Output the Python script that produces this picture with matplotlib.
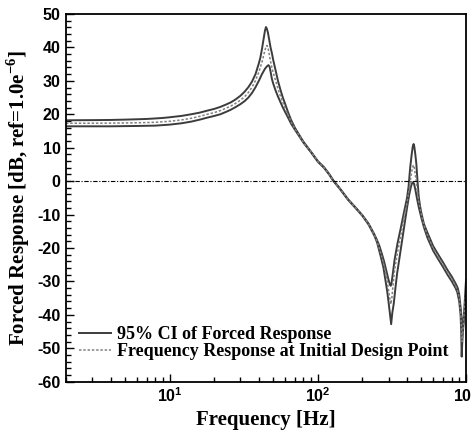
import math
import matplotlib
matplotlib.use("Agg")
import matplotlib.pyplot as plt
from matplotlib.ticker import FixedLocator, FuncFormatter, MultipleLocator, LogLocator, NullFormatter

plt.rcParams["font.family"] = ["Liberation Serif", "DejaVu Serif"]
plt.rcParams["mathtext.fontset"] = "custom"
plt.rcParams["mathtext.rm"] = "Liberation Serif:bold"
plt.rcParams["mathtext.bf"] = "Liberation Serif:bold"
plt.rcParams["mathtext.sf"] = "Liberation Sans:bold"

# Upper bound of the 95% confidence interval (Hz, dB)
ci_upper_freq = [2, 3, 4, 5, 6, 7, 8, 9, 10, 12, 14, 16, 18, 20, 22, 24, 26, 28, 30, 32, 34, 36,
                 38, 40, 41, 42, 43, 44, 44.7, 45.3, 46, 47, 48, 49, 50, 52, 54, 56, 58, 60, 63,
                 66, 70, 75, 80, 90, 100, 110, 120, 127, 140, 160, 180, 200, 220, 240, 250, 260,
                 270, 280, 290, 300, 306, 310, 314, 320, 330, 345, 360, 380, 400, 410, 420, 430,
                 437, 443, 448, 455, 462, 470, 480, 490, 500, 520, 550, 600, 650, 700, 750, 800,
                 850, 880, 900, 920, 935, 945, 952, 960, 970, 985, 1000]
ci_upper_db = [18.2, 18.25, 18.3, 18.4, 18.5, 18.6, 18.75, 18.9, 19.1, 19.5, 20.0, 20.5, 21.1,
               21.6, 22.2, 22.9, 23.6, 24.5, 25.5, 26.7, 28.1, 29.8, 32.0, 35.2, 37.0, 39.5, 42.3,
               45.0, 46.1, 45.6, 44.6, 42.3, 40.0, 38.3, 36.3, 33.0, 29.8, 27.3, 25.1, 23.3, 20.6,
               18.3, 16.0, 13.8, 11.8, 8.8, 6.0, 4.2, 2.0, 0.3, -2.0, -5.4, -7.9, -10.2, -12.7,
               -15.8, -17.5, -19.3, -21.6, -24.0, -26.8, -29.5, -30.8, -31.3, -30.7, -28.0, -23.4,
               -18.6, -14.8, -9.7, -5.0, -1.5, 4.0, 8.0, 10.3, 11.1, 10.3, 8.0, 5.3, 0.5, -4.7,
               -7.5, -9.6, -12.8, -15.5, -19.4, -22.0, -24.3, -26.6, -28.5, -30.6, -32.0, -34.0,
               -37.8, -41.2, -43.4, -44.0, -42.3, -39.5, -34.5, -29.6]

# Lower bound of the 95% confidence interval (Hz, dB)
ci_lower_freq = [2, 4, 6, 8, 10, 12, 14, 16, 18, 20, 22, 24, 26, 28, 30, 32, 34, 36, 38, 40, 42,
                 44, 45.5, 46.5, 47.3, 48, 49, 50, 52, 54, 56, 58, 60, 63, 66, 70, 75, 80, 90,
                 100, 110, 120, 127, 140, 160, 180, 200, 220, 240, 251, 265, 277, 286, 294, 301,
                 307, 312.6, 318, 325.6, 334, 343, 357, 371, 386, 401, 414, 426, 433, 439, 446,
                 455, 466, 480, 500, 520, 550, 600, 650, 700, 750, 800, 850, 873, 900, 919, 928,
                 935, 942, 952, 965, 982, 1000]
ci_lower_db = [16.4, 16.4, 16.5, 16.6, 16.9, 17.3, 17.8, 18.4, 19.0, 19.5, 20.0, 20.7, 21.4,
               22.2, 23.0, 23.9, 25.0, 26.4, 28.1, 30.0, 32.0, 33.6, 34.4, 34.7, 34.2, 32.8, 30.6,
               29.2, 27.0, 25.2, 23.6, 22.1, 20.8, 19.0, 17.2, 15.4, 13.4, 11.5, 8.6, 5.8, 4.0,
               1.8, 0.1, -2.2, -5.6, -8.1, -10.4, -13.0, -16.2, -18.3, -22.3, -25.8, -29.6, -33.0,
               -36.6, -39.8, -42.8, -39.5, -36.6, -32.0, -27.6, -22.5, -17.6, -12.5, -7.7, -4.0,
               -1.5, -0.6, -0.3, -0.8, -2.5, -5.0, -7.8, -11.0, -13.8, -17.0, -20.8, -23.4, -25.7,
               -28.0, -29.9, -32.0, -33.2, -36.0, -40.0, -45.0, -52.5, -49.0, -45.5, -42.0, -38.5,
               -35.5]

# Frequency response at the initial design point (Hz, dB)
nominal_freq = [2, 4, 6, 8, 10, 12, 14, 16, 18, 20, 22, 24, 26, 28, 30, 32, 34, 36, 38, 40, 42,
                43.5, 44.7, 45.4, 46.2, 47, 48, 49, 50, 52, 54, 56, 58, 60, 63, 66, 70, 75, 80,
                90, 100, 110, 120, 127, 140, 160, 180, 200, 220, 240, 251, 265, 277, 290, 300,
                306, 311, 316, 322, 330, 343, 361, 380, 401, 415, 425, 433, 441, 448, 458, 470,
                480, 500, 520, 550, 600, 650, 700, 750, 800, 850, 873, 900, 919, 932, 940, 950,
                965, 985, 1000]
nominal_db = [17.3, 17.35, 17.45, 17.6, 17.9, 18.3, 18.8, 19.4, 20.0, 20.5, 21.1, 21.8, 22.5,
              23.3, 24.2, 25.2, 26.5, 28.1, 30.1, 32.6, 35.6, 38.3, 40.2, 40.6, 39.8, 38.0, 35.8,
              34.0, 32.5, 30.0, 27.5, 25.4, 23.6, 22.0, 19.8, 17.7, 15.7, 13.6, 11.6, 8.7, 5.9,
              4.1, 1.9, 0.2, -2.1, -5.5, -8.0, -10.3, -12.8, -16.0, -18.0, -21.3, -24.5, -28.5,
              -32.5, -35.0, -36.8, -35.0, -31.0, -26.5, -22.0, -16.8, -11.5, -6.2, -2.0, 1.5,
              3.5, 4.8, 4.0, 1.0, -3.0, -6.2, -10.0, -13.2, -16.2, -20.1, -22.7, -25.0, -27.3,
              -29.2, -31.3, -32.5, -35.0, -38.8, -44.0, -48.0, -45.5, -41.0, -36.5, -32.5]

legend_labels = ["95% CI of Forced Response", "Frequency Response at Initial Design Point"]
x_label = "Frequency [Hz]"
y_label = r"Forced Response [dB, ref=1.0e$^{-6}$]"

fig = plt.figure(figsize=(4.71, 4.33), dpi=100)
ax = fig.add_axes([0.1401, 0.1185, 0.8493, 0.8492])

solid_color = "#3c3c3c"
dot_color = "#808080"

ax.plot(ci_upper_freq, ci_upper_db, color=solid_color, lw=1.4, label=legend_labels[0])
ax.plot(ci_lower_freq, ci_lower_db, color=solid_color, lw=1.4)
ax.plot(nominal_freq, nominal_db, color=dot_color, lw=1.1, linestyle=(0, (1.6, 1.2)),
        label=legend_labels[1])
ax.axhline(0, color="black", lw=0.8, linestyle=(0, (4, 1.5, 1, 1.5)))

ax.set_xscale("log")
ax.set_xlim(2, 1000)
ax.set_ylim(-60, 50)

ax.yaxis.set_major_locator(MultipleLocator(10))
ax.yaxis.set_minor_locator(MultipleLocator(2))
ax.xaxis.set_major_locator(FixedLocator([10, 100, 1000]))
ax.xaxis.set_minor_locator(LogLocator(base=10, subs=range(2, 10)))
ax.xaxis.set_minor_formatter(NullFormatter())
ax.xaxis.set_major_formatter(FuncFormatter(
    lambda v, p: r"$\mathsf{10^{%d}}$" % round(math.log10(v))))
ax.yaxis.set_major_formatter(FuncFormatter(lambda v, p: "%d" % v))

ax.tick_params(which="both", direction="in", top=False, right=False, width=1.0)
ax.tick_params(which="major", length=6, pad=4)
ax.tick_params(which="minor", length=3.5)
for lab in ax.get_yticklabels():
    lab.set_fontfamily("Liberation Sans")
    lab.set_fontweight("bold")
    lab.set_fontsize(11.5)
ax.tick_params(axis="x", labelsize=11.5)

for sp in ax.spines.values():
    sp.set_linewidth(1.3)

ax.set_xlabel(x_label, fontsize=15, fontweight="bold", labelpad=3)
ax.set_ylabel(y_label, fontsize=15, fontweight="bold", labelpad=4)

leg = ax.legend(loc="center left", bbox_to_anchor=(0.0325, 0.1047), frameon=False,
                prop={"family": "Liberation Serif", "weight": "bold", "size": 13},
                handlelength=1.8, handletextpad=0.3, labelspacing=0.0,
                borderpad=0.0, borderaxespad=0.0)

fig.savefig("out.png", dpi=100)
